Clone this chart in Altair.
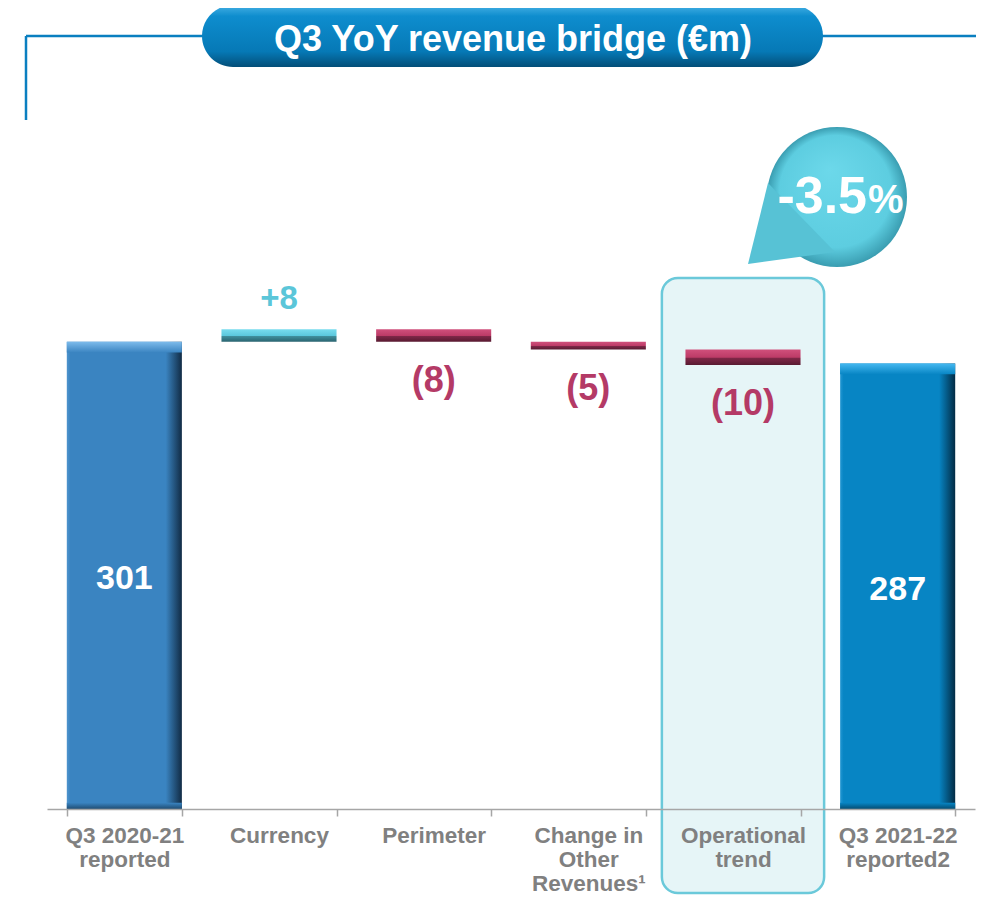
import altair as alt
import pandas as pd

# ---------------- data ----------------
CATEGORY_LINES = [["Q3 2020-21", "reported"], ["Currency"], ["Perimeter"],
                  ["Change in", "Other", "Revenues¹"], ["Operational", "trend"],
                  ["Q3 2021-22", "reported2"]]
STEP_KINDS = ["total", "delta", "delta", "delta", "delta", "total"]
STEP_VALUES = [301, 8, -8, -5, -10, 287]
VALUE_LABELS = ["301", "+8", "(8)", "(5)", "(10)", "287"]
TITLE = "Q3 YoY revenue bridge (€m)"
HIGHLIGHT = ["Operational", "trend"]
CHANGE_PCT = ["-3.5"]
CHANGE_UNIT = ["%"]

CATS = ["|".join(l) for l in CATEGORY_LINES]
rows = []
level = 0
for cat, kind, v, lab in zip(CATS, STEP_KINDS, STEP_VALUES, VALUE_LABELS):
    if kind == "total":
        start, end = 0, v
        group = "first" if not rows else "last"
    else:
        start, end = level, level + v
        group = "inc" if v > 0 else "dec"
    level = end
    rows.append(dict(cat=cat, start=start, end=end, group=group, label=lab))
df = pd.DataFrame(rows)

FONT = "Liberation Sans"

x_enc = alt.X(
    "cat:N", sort=CATS,
    scale=alt.Scale(domain=CATS, paddingInner=0.256, paddingOuter=0.128),
    axis=alt.Axis(title=None, labelAngle=0, labelFont=FONT, labelFontSize=22.5,
                  labelFontWeight="bold", labelColor="#808080",
                  labelExpr="split(datum.label, '|')", labelLineHeight=24,
                  labelBaseline="alphabetic", labelPadding=26, labelLimit=0,
                  tickSize=7, tickColor="#A6A6A6", tickWidth=1.5,
                  domainColor="#A6A6A6", domainWidth=1.5, tickBand="extent",
                  zindex=1, grid=False),
)
y_scale = alt.Scale(domain=[0, 516], nice=False, zero=False)


def lin(stops, horizontal):
    return alt.LinearGradient(
        gradient="linear",
        stops=[alt.GradientStop(offset=o, color=c) for o, c in stops],
        x1=0, y1=0, x2=1 if horizontal else 0, y2=0 if horizontal else 1)


base = alt.Chart(df)

# highlight box
box = alt.Chart(pd.DataFrame({"cat": ["|".join(HIGHLIGHT)]})).mark_bar(
    width=alt.RelativeBandSize(1.41), cornerRadius=16, fill="#E4F4F7",
    stroke="#5BC4D6", strokeWidth=2.5, opacity=0.9
).encode(x=x_enc, y=alt.value(270), y2=alt.value(885))

# frame lines and title pill (pixel positions relative to the plot area)
deco = alt.Chart(pd.DataFrame({"t": [TITLE]}))
frame_v = deco.mark_rule(color="#0A7FC0", strokeWidth=2.5).encode(
    x=alt.value(-21), y=alt.value(28), y2=alt.value(112))
frame_l = deco.mark_rule(color="#0A7FC0", strokeWidth=2.5).encode(
    x=alt.value(-21), x2=alt.value(160), y=alt.value(28))
frame_r = deco.mark_rule(color="#0A7FC0", strokeWidth=2.5).encode(
    x=alt.value(770), x2=alt.value(940), y=alt.value(28))
pill = deco.mark_rect(
    cornerRadius=31,
    fill=lin([(0, "#45B0E4"), (0.18, "#0E8DCE"), (0.75, "#0679B6"), (1, "#034E78")], False),
).encode(x=alt.value(155), x2=alt.value(776), y=alt.value(-3), y2=alt.value(59))
title = deco.mark_text(font=FONT, fontSize=36, fontWeight="bold", color="white",
                       align="center", baseline="alphabetic").encode(
    x=alt.value(466), y=alt.value(43), text="t:N")


def bars(group, fill):
    return base.transform_filter(alt.datum.group == group).mark_bar(fill=fill).encode(
        x=x_enc, y=alt.Y("start:Q", scale=y_scale, axis=None), y2="end:Q")


def strip(group, fill, expr_a, expr_b):
    return base.transform_filter(alt.datum.group == group).transform_calculate(
        sa=expr_a, sb=expr_b
    ).mark_bar(fill=fill).encode(
        x=x_enc, y=alt.Y("sa:Q", scale=y_scale, axis=None), y2="sb:Q")


bar_first = bars("first", lin([(0, "#4F95CE"), (0.03, "#3A84C1"), (0.86, "#3A84C1"),
                               (1, "#112B44")], True))
bar_last = bars("last", lin([(0, "#2296D2"), (0.03, "#0785C4"), (0.86, "#0785C4"),
                             (1, "#022B44")], True))
strip_first = strip("first", lin([(0, "#7DBBEB"), (1, "#3A84C1")], False),
                    "datum.end", "datum.end - 7")
strip_last = strip("last", lin([(0, "#45B8F0"), (1, "#0785C4")], False),
                   "datum.end", "datum.end - 7")
bot_first = strip("first", lin([(0, "#3A84C1"), (1, "#1F4C72")], False),
                  "datum.start + 4", "datum.start")
bot_last = strip("last", lin([(0, "#0785C4"), (1, "#034C72")], False),
                 "datum.start + 4", "datum.start")
bar_inc = bars("inc", lin([(0, "#78DCEE"), (0.5, "#5CC8DD"), (0.56, "#3F8E9C"),
                           (1, "#2A6470")], False))
bar_dec = bars("dec", lin([(0, "#D0507C"), (0.5, "#BC3B67"), (0.56, "#7E2747"),
                           (1, "#581A31")], False))

lab_tot = base.transform_filter("datum.group == 'first' || datum.group == 'last'").transform_calculate(
    mid="(datum.start + datum.end) / 2"
).mark_text(font=FONT, fontSize=34, fontWeight="bold", color="white",
            baseline="middle", dy=4).encode(
    x=x_enc, y=alt.Y("mid:Q", scale=y_scale, axis=None), text="label:N")
lab_inc = base.transform_filter(alt.datum.group == "inc").mark_text(
    font=FONT, fontSize=33, fontWeight="bold", color="#5BC6D9",
    baseline="alphabetic", dy=-20).encode(
    x=x_enc, y=alt.Y("end:Q", scale=y_scale, axis=None), text="label:N")
lab_dec = base.transform_filter(alt.datum.group == "dec").mark_text(
    font=FONT, fontSize=36, fontWeight="bold", color="#B43A66",
    baseline="alphabetic", dy=50).encode(
    x=x_enc, y=alt.Y("end:Q", scale=y_scale, axis=None), text="label:N")

# bubble
bub = alt.Chart(pd.DataFrame({"v": CHANGE_PCT, "u": CHANGE_UNIT}))
circle = bub.mark_point(
    shape="circle", filled=True, size=19600, opacity=1, strokeWidth=0,
    fill=alt.RadialGradient(gradient="radial", x1=0.45, y1=0.3, r1=0, x2=0.5, y2=0.5, r2=0.5,
                            stops=[alt.GradientStop(offset=0, color="#6CD8EA"),
                                   alt.GradientStop(offset=0.8, color="#5DCDE0"),
                                   alt.GradientStop(offset=1, color="#3A9DB1")]),
).encode(x=alt.value(790), y=alt.value(189))
tail = bub.mark_point(
    shape="M -0.69 -0.14 L -0.89 0.67 L -0.02 0.55 Z", size=40000, filled=True,
    fill="#57C2D5", opacity=1, strokeWidth=0
).encode(x=alt.value(790), y=alt.value(189))
pct = bub.mark_text(font=FONT, fontSize=52, fontWeight="bold", color="white",
                    align="right", baseline="alphabetic").encode(
    x=alt.value(820), y=alt.value(205), text="v:N")
unit = bub.mark_text(font=FONT, fontSize=40, fontWeight="bold", color="white",
                     align="left", baseline="alphabetic").encode(
    x=alt.value(821), y=alt.value(205), text="u:N")

chart = alt.layer(
    box, frame_v, frame_l, frame_r, pill, title,
    bar_first, bar_last, strip_first, strip_last, bot_first, bot_last, bar_inc, bar_dec,
    lab_tot, lab_inc, lab_dec, circle, tail, pct, unit,
).properties(
    width=928, height=801,
    padding={"left": 39, "right": 1, "top": 0, "bottom": 86},
    autosize=alt.AutoSizeParams(type="none"),
).configure(font=FONT, background="white").configure_view(stroke=None)

chart.save("out.html", embed_options={"renderer": "svg", "actions": False})
